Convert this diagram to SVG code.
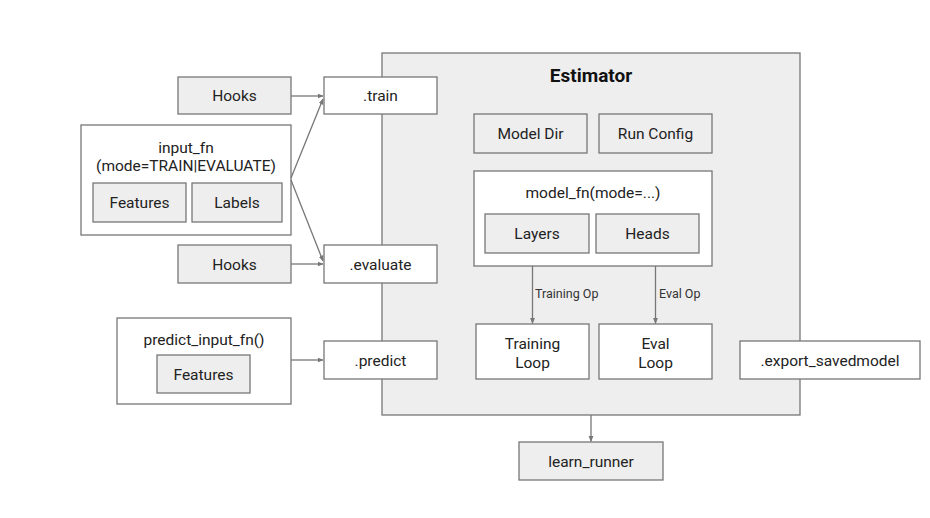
<svg xmlns="http://www.w3.org/2000/svg" width="930" height="518" viewBox="0 0 930 518">
<style>
.g{fill:#eeeeee;stroke:#777777;stroke-width:1.3}
.w{fill:#ffffff;stroke:#777777;stroke-width:1.3}
.t{font-family:Roboto,"Liberation Sans",sans-serif;font-size:15.5px;fill:#222222;text-anchor:middle}
.s{font-family:Roboto,"Liberation Sans",sans-serif;font-size:12.5px;fill:#333333}
.b{font-family:Roboto,"Liberation Sans",sans-serif;font-size:19px;font-weight:bold;fill:#111111;text-anchor:middle}
.c{fill:none;stroke:#777777;stroke-width:1.3}
</style>
<defs>
<marker id="ah" viewBox="0 0 10 10" refX="9" refY="5" markerWidth="6" markerHeight="6" markerUnits="userSpaceOnUse" orient="auto">
<path d="M0,1 L10,5 L0,9 z" fill="#777777"/>
</marker>
</defs>
<rect width="930" height="518" fill="#ffffff"/>
<g id="estimator">
<rect class="g" x="382" y="53" width="418" height="362"/>
<text class="b" x="591" y="81.5">Estimator</text>
</g>
<g id="train"><rect class="w" x="324" y="77" width="113" height="37"/><text class="t" x="380.5" y="101">.train</text></g>
<g id="evaluate"><rect class="w" x="324" y="245" width="113" height="38"/><text class="t" x="380.5" y="269.5">.evaluate</text></g>
<g id="predict"><rect class="w" x="324" y="341" width="113" height="38"/><text class="t" x="380.5" y="365.5">.predict</text></g>
<g id="hooks1"><rect class="g" x="178" y="77" width="113" height="37"/><text class="t" x="234.5" y="101">Hooks</text></g>
<g id="hooks2"><rect class="g" x="178" y="245" width="113" height="38"/><text class="t" x="234.5" y="269.5">Hooks</text></g>
<g id="input_fn">
<rect class="w" x="81" y="125" width="210" height="110"/>
<text class="t" x="186" y="152.5">input_fn</text>
<text class="t" x="186" y="170.5">(mode=TRAIN|EVALUATE)</text>
<rect class="g" x="93" y="183" width="93" height="39"/><text class="t" x="139.5" y="207.5">Features</text>
<rect class="g" x="192" y="183" width="90" height="39"/><text class="t" x="237" y="207.5">Labels</text>
</g>
<g id="predict_input_fn">
<rect class="w" x="117" y="318" width="174" height="86"/>
<text class="t" x="204" y="344.5">predict_input_fn()</text>
<rect class="g" x="157" y="355" width="93" height="38"/><text class="t" x="203.5" y="379.5">Features</text>
</g>
<g id="model_dir"><rect class="g" x="474" y="114" width="113" height="39"/><text class="t" x="530.5" y="138.5">Model Dir</text></g>
<g id="run_config"><rect class="g" x="599" y="114" width="113" height="39"/><text class="t" x="655.5" y="138.5">Run Config</text></g>
<g id="model_fn">
<rect class="w" x="474" y="171" width="238" height="95"/>
<text class="t" x="593" y="197.5">model_fn(mode=...)</text>
<rect class="g" x="485" y="214" width="104" height="39"/><text class="t" x="537" y="238.5">Layers</text>
<rect class="g" x="596" y="214" width="103" height="39"/><text class="t" x="647.5" y="238.5">Heads</text>
</g>
<g id="training_loop"><rect class="w" x="476" y="324" width="113" height="55"/><text class="t" x="532.5" y="348.5">Training</text><text class="t" x="532.5" y="367.5">Loop</text></g>
<g id="eval_loop"><rect class="w" x="599" y="324" width="113" height="55"/><text class="t" x="655.5" y="348.5">Eval</text><text class="t" x="655.5" y="367.5">Loop</text></g>
<g id="export"><rect class="w" x="740" y="341" width="180" height="38"/><text class="t" x="830" y="365.5">.export_savedmodel</text></g>
<g id="learn_runner"><rect class="g" x="519" y="442" width="144" height="38"/><text class="t" x="591" y="466.5">learn_runner</text></g>
<g id="connectors">
<line class="c" x1="291" y1="96" x2="323" y2="96" marker-end="url(#ah)"/>
<line class="c" x1="291" y1="264" x2="323" y2="264" marker-end="url(#ah)"/>
<line class="c" x1="291" y1="360" x2="323" y2="360" marker-end="url(#ah)"/>
<line class="c" x1="291" y1="178" x2="323" y2="99" marker-end="url(#ah)"/>
<line class="c" x1="291" y1="180" x2="323" y2="261" marker-end="url(#ah)"/>
<line class="c" x1="532.5" y1="266" x2="532.5" y2="323.5" marker-end="url(#ah)"/>
<line class="c" x1="655.5" y1="266" x2="655.5" y2="323.5" marker-end="url(#ah)"/>
<line class="c" x1="591" y1="415" x2="591" y2="441.5" marker-end="url(#ah)"/>
<text class="s" x="535" y="298">Training Op</text>
<text class="s" x="659" y="298">Eval Op</text>
</g>
</svg>
